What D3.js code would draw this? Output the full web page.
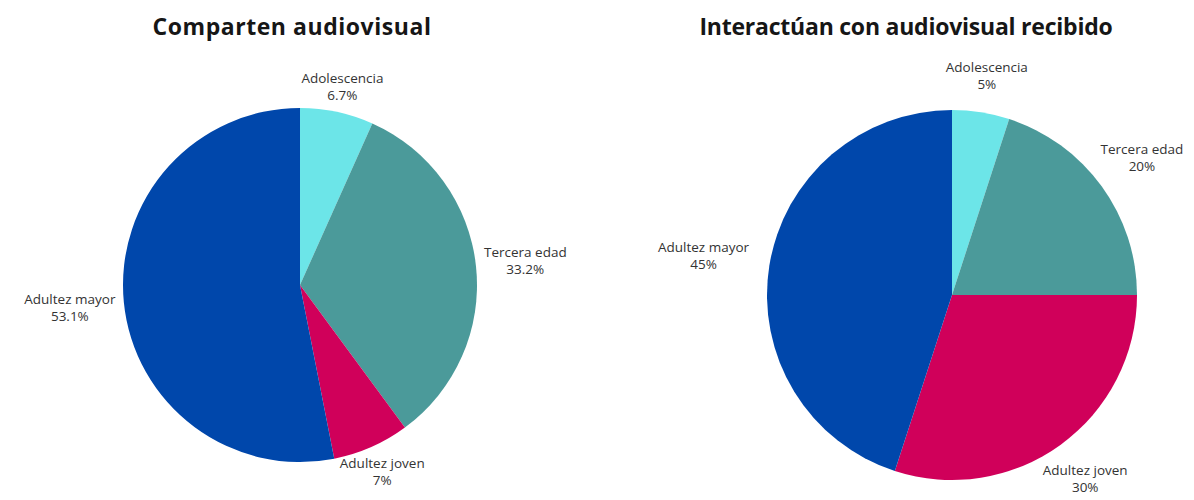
<!DOCTYPE html>
<html>
<head>
<meta charset="utf-8">
<script src="https://cdn.jsdelivr.net/npm/d3@7"></script>
<style>
  html, body { margin: 0; padding: 0; background: #fff; }
  svg { display: block; }
</style>
</head>
<body>
<svg id="chart" width="1194" height="500"></svg>
<script>
// ---- data ----
const categories = ["Adolescencia", "Tercera edad", "Adultez joven", "Adultez mayor"];
const colors = ["#6ce5e8", "#4b9a9a", "#d0005a", "#0047ab"];
const titles = ["Comparten audiovisual", "Interactúan con audiovisual recibido"];
const valuesComparten = [6.7, 33.2, 7, 53.1];
const valuesInteractuan = [5, 20, 30, 45];

// ---- layout (styles only) ----
const W = 1194, H = 500;
const svg = d3.select("#chart");
const panels = [
  { title: titles[0], values: valuesComparten, cx: 300, cy: 285, r: 177, gap: 8, titleX: 292, titleW: 279 },
  { title: titles[1], values: valuesInteractuan, cx: 952, cy: 295, r: 185, gap: 20, titleX: 906, titleW: 413 }
];

const color = d3.scaleOrdinal().domain(categories).range(colors);
const fmt = v => d3.format("~f")(v) + "%";

panels.forEach(p => {
  const tt = svg.append("text")
    .attr("x", p.titleX).attr("y", 35)
    .attr("text-anchor", "middle")
    .attr("font-family", "Open Sans, sans-serif")
    .attr("font-weight", 700)
    .attr("font-size", 23)
    .attr("fill", "#161616")
    .text(p.title);
  const tw = tt.node().getComputedTextLength();
  tt.attr("letter-spacing", ((p.titleW - tw) / p.title.length).toFixed(2));

  const data = categories.map((c, i) => ({ cat: c, value: p.values[i] }));
  const pie = d3.pie().sort(null).value(d => d.value);
  const arcs = pie(data);
  const arc = d3.arc().innerRadius(0).outerRadius(p.r);

  const g = svg.append("g").attr("transform", `translate(${p.cx},${p.cy})`);
  g.selectAll("path").data(arcs).join("path")
    .attr("d", arc)
    .attr("fill", d => color(d.data.cat));

  arcs.forEach(a => {
    const ang = (a.startAngle + a.endAngle) / 2;
    const sx = Math.sin(ang), sy = -Math.cos(ang);
    const t = g.append("text")
      .attr("font-family", "Open Sans, sans-serif")
      .attr("font-weight", 500)
      .attr("font-size", 13.5)
      .attr("fill", "#333")
      .attr("text-anchor", "middle");
    t.append("tspan").attr("x", 0).attr("dy", 0).text(a.data.cat);
    t.append("tspan").attr("x", 0).attr("dy", 17).text(fmt(a.data.value));
    const bb = t.node().getBBox();
    const hw = bb.width / 2, hh = bb.height / 2;
    const edge = Math.min(
      Math.abs(sx) > 1e-6 ? hw / Math.abs(sx) : Infinity,
      Math.abs(sy) > 1e-6 ? hh / Math.abs(sy) : Infinity
    );
    const dist = p.r + p.gap + edge;
    let cx = sx * dist, cy = sy * dist;
    const absX = p.cx + cx;
    if (absX + hw > W - 2) cx -= (absX + hw - (W - 2));
    if (absX - hw < 2) cx += (2 - (absX - hw));
    const bcx = bb.x + hw, bcy = bb.y + hh;
    t.attr("transform", `translate(${cx - bcx},${cy - bcy})`);
  });
});
</script>
</body>
</html>
